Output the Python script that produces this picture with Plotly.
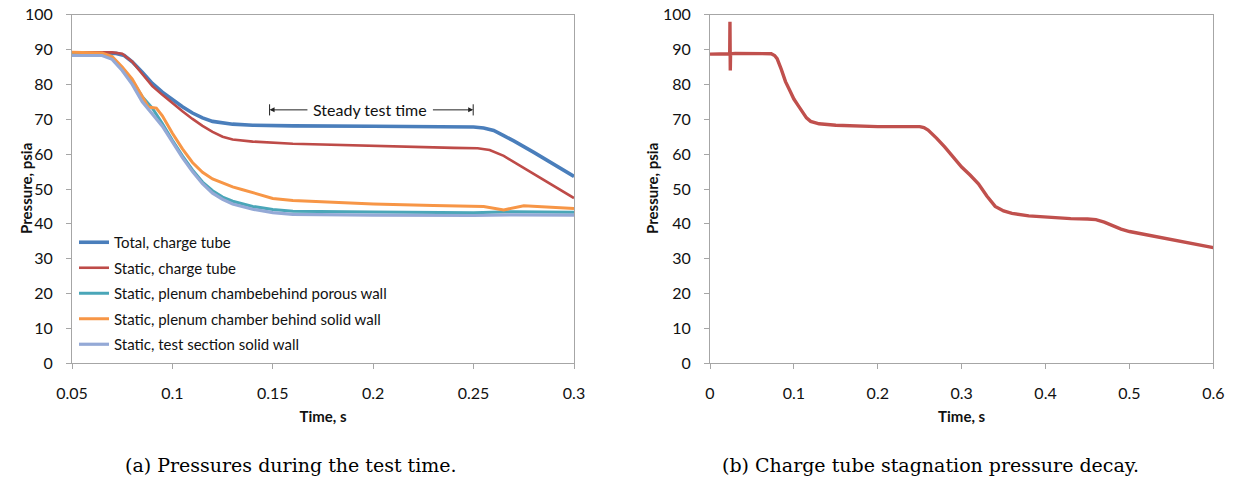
import plotly.graph_objects as go

# ---------------- data ----------------
series_names = [
    "Total, charge tube",
    "Static, charge tube",
    "Static, plenum chambebehind porous wall",
    "Static, plenum chamber behind solid wall",
    "Static, test section solid wall",
]

t_total = [0.05, 0.065, 0.072, 0.076, 0.080, 0.085, 0.090, 0.095, 0.100, 0.105, 0.110, 0.115,
           0.120, 0.125, 0.130, 0.140, 0.160, 0.200, 0.240, 0.250, 0.255, 0.260, 0.265, 0.270,
           0.280, 0.290, 0.300]
p_total = [89.0, 89.0, 88.9, 88.3, 86.5, 83.5, 80.3, 77.8, 75.6, 73.6, 71.8, 70.4,
           69.4, 68.9, 68.6, 68.3, 68.1, 68.0, 67.9, 67.8, 67.5, 66.8, 65.3, 63.8,
           60.5, 57.0, 53.6]

t_static = [0.05, 0.070, 0.075, 0.080, 0.085, 0.090, 0.095, 0.100, 0.105, 0.110, 0.115, 0.120,
            0.125, 0.130, 0.140, 0.160, 0.200, 0.240, 0.252, 0.258, 0.265, 0.275, 0.285, 0.300]
p_static = [89.2, 89.2, 88.8, 86.5, 83.0, 79.5, 77.0, 74.6, 72.3, 70.1, 68.1, 66.4,
            65.0, 64.2, 63.6, 63.0, 62.3, 61.8, 61.7, 61.2, 59.5, 56.0, 52.5, 47.4]

t_porous = [0.05, 0.065, 0.070, 0.075, 0.080, 0.085, 0.090, 0.095, 0.100, 0.105, 0.110, 0.115,
            0.120, 0.125, 0.130, 0.140, 0.150, 0.160, 0.200, 0.250, 0.270, 0.300]
p_porous = [89.0, 88.8, 87.5, 84.5, 81.0, 76.5, 73.2, 68.8, 64.0, 59.5, 55.5, 52.0,
            49.5, 47.7, 46.5, 45.0, 44.1, 43.6, 43.4, 43.2, 43.5, 43.3]

t_solid = [0.05, 0.065, 0.070, 0.075, 0.080, 0.085, 0.088, 0.092, 0.095, 0.100, 0.105, 0.110,
           0.115, 0.120, 0.125, 0.130, 0.135, 0.140, 0.150, 0.160, 0.180, 0.200, 0.230, 0.255,
           0.265, 0.275, 0.300]
p_solid = [89.2, 89.0, 88.0, 85.0, 81.5, 76.5, 73.5, 73.2, 71.0, 66.0, 61.5, 57.6,
           54.8, 52.9, 51.7, 50.6, 49.8, 49.0, 47.3, 46.7, 46.2, 45.7, 45.3, 45.0,
           44.0, 45.2, 44.4]

t_section = [0.05, 0.065, 0.070, 0.075, 0.080, 0.085, 0.090, 0.095, 0.100, 0.105, 0.110, 0.115,
             0.120, 0.125, 0.130, 0.140, 0.150, 0.160, 0.200, 0.250, 0.270, 0.300]
p_section = [88.3, 88.3, 87.2, 84.0, 80.0, 75.0, 71.5, 68.0, 63.5, 59.0, 55.0, 51.5,
             48.8, 47.0, 45.7, 44.2, 43.2, 42.7, 42.5, 42.4, 42.6, 42.5]

t_decay = [0.0, 0.010, 0.020, 0.0235, 0.0238, 0.0242, 0.0245, 0.030, 0.050, 0.070, 0.073, 0.077,
           0.080, 0.085, 0.090, 0.095, 0.100, 0.105, 0.110, 0.115, 0.120, 0.125, 0.130, 0.150,
           0.200, 0.250, 0.255, 0.260, 0.265, 0.270, 0.280, 0.290, 0.300, 0.310, 0.320, 0.330,
           0.340, 0.350, 0.360, 0.380, 0.400, 0.430, 0.450, 0.460, 0.470, 0.480, 0.490, 0.500,
           0.520, 0.540, 0.560, 0.580, 0.600]
p_decay = [88.7, 88.8, 88.7, 88.8, 98.0, 84.0, 88.8, 88.9, 88.9, 88.9, 88.8, 88.3,
           87.4, 84.3, 80.8, 78.3, 75.8, 74.0, 72.0, 70.4, 69.4, 69.0, 68.7, 68.3,
           67.9, 67.9, 67.6, 66.9, 65.9, 64.6, 62.0, 59.0, 56.3, 54.0, 51.5, 48.0,
           45.0, 43.7, 43.0, 42.3, 41.9, 41.5, 41.4, 41.2, 40.5, 39.5, 38.5, 37.8,
           36.9, 35.8, 34.9, 34.1, 33.2]

steady_start, steady_end, steady_level = 0.1484, 0.2498, 72.7
steady_label = "Steady test time"

x_ticks_a = [0.05, 0.1, 0.15, 0.2, 0.25, 0.3]
x_ticks_b = [0, 0.1, 0.2, 0.3, 0.4, 0.5, 0.6]
y_ticks = [0, 10, 20, 30, 40, 50, 60, 70, 80, 90, 100]

x_title = "Time, s"
y_title = "Pressure, psia"
captions = ["(a) Pressures during the test time.", "(b) Charge tube stagnation pressure decay."]

# ---------------- styling ----------------
colors = ["#4A7EBB", "#BE4B48", "#4AA6B8", "#F79646", "#94A9D6"]
widths = [3.6, 2.6, 3.0, 3.0, 3.2]
FONT = "Lato"
W, H = 1237, 483

fig = go.Figure()
left_data = [(t_total, p_total), (t_static, p_static), (t_porous, p_porous),
             (t_solid, p_solid), (t_section, p_section)]
for i, (tx, py) in enumerate(left_data):
    fig.add_trace(go.Scatter(x=tx, y=py, mode="lines", name=series_names[i],
                             line=dict(color=colors[i], width=widths[i]),
                             legendgroup=str(i), xaxis="x", yaxis="y"))

fig.add_trace(go.Scatter(x=t_decay, y=p_decay, mode="lines", showlegend=False,
                         line=dict(color="#C0504D", width=3.4), xaxis="x2", yaxis="y2"))

ax_common = dict(showgrid=False, zeroline=False, showline=True, linecolor="#A6A6A6",
                 linewidth=1, mirror=True, ticks="outside", ticklen=5, tickcolor="#A6A6A6",
                 automargin=False,
                 tickfont=dict(family=FONT, size=16, color="#111"),
                 title_font=dict(family=FONT, size=15, color="#111"))

y_dom = [(H - 363.3) / H, (H - 14.7) / H]
fig.update_layout(
    template="none",
    width=W, height=H,
    margin=dict(l=0, r=0, t=0, b=0, autoexpand=False),
    paper_bgcolor="white", plot_bgcolor="white",
    xaxis=dict(domain=[72 / W, 574 / W], range=[0.05, 0.3], tickvals=x_ticks_a,
               ticktext=[f"{v:g}" for v in x_ticks_a], ticklabelstandoff=10,
               title=dict(text=f"<b>{x_title}</b>", standoff=10), anchor="y", **ax_common),
    yaxis=dict(domain=y_dom, range=[0, 100], tickvals=y_ticks,
               ticklabelstandoff=10, anchor="x", **ax_common),
    xaxis2=dict(domain=[710 / W, 1213.3 / W], range=[0, 0.6], tickvals=x_ticks_b,
                ticktext=[f"{v:g}" for v in x_ticks_b], ticklabelstandoff=10,
                title=dict(text=f"<b>{x_title}</b>", standoff=10), anchor="y2", **ax_common),
    yaxis2=dict(domain=y_dom, range=[0, 100], tickvals=y_ticks,
                ticklabelstandoff=10, anchor="x2", **ax_common),
    legend=dict(x=74 / W, y=(H - 226) / H, xanchor="left", yanchor="top",
                bgcolor="rgba(0,0,0,0)", font=dict(family=FONT, size=15, color="#111"),
                itemwidth=30, tracegroupgap=3),
    showlegend=True,
)

# y axis titles (rotated)
for xc in (26, 652):
    fig.add_annotation(x=xc / W, y=(H - 189) / H, xref="paper", yref="paper",
                       text=f"<b>{y_title}</b>", textangle=-90, showarrow=False,
                       xanchor="center", yanchor="middle",
                       font=dict(family=FONT, size=15, color="#111"))

# steady test time marker
for xv in (steady_start, steady_end):
    fig.add_shape(type="line", xref="x", yref="y", x0=xv, x1=xv,
                  y0=steady_level - 1.6, y1=steady_level + 1.6,
                  line=dict(color="#222", width=1))
fig.add_annotation(x=steady_start, y=steady_level, ax=0.168, ay=steady_level,
                   xref="x", yref="y", axref="x", ayref="y", text="", showarrow=True,
                   arrowhead=2, arrowsize=1, arrowwidth=1, arrowcolor="#222")
fig.add_annotation(x=steady_end, y=steady_level, ax=0.229, ay=steady_level,
                   xref="x", yref="y", axref="x", ayref="y", text="", showarrow=True,
                   arrowhead=2, arrowsize=1, arrowwidth=1, arrowcolor="#222")
fig.add_annotation(x=(steady_start + steady_end) / 2 - 0.0005, y=steady_level, xref="x", yref="y",
                   text=steady_label, showarrow=False,
                   font=dict(family=FONT, size=16, color="#111"))

# captions
for txt, xc in zip(captions, (291, 930)):
    fig.add_annotation(x=xc / W, y=(H - 465) / H, xref="paper", yref="paper", text=txt,
                       xanchor="center", yanchor="middle", showarrow=False,
                       font=dict(family="DejaVu Serif", size=19, color="#000"))

fig.write_html("out.html", config={"displayModeBar": False},
               post_script="document.body.style.margin='0';")
